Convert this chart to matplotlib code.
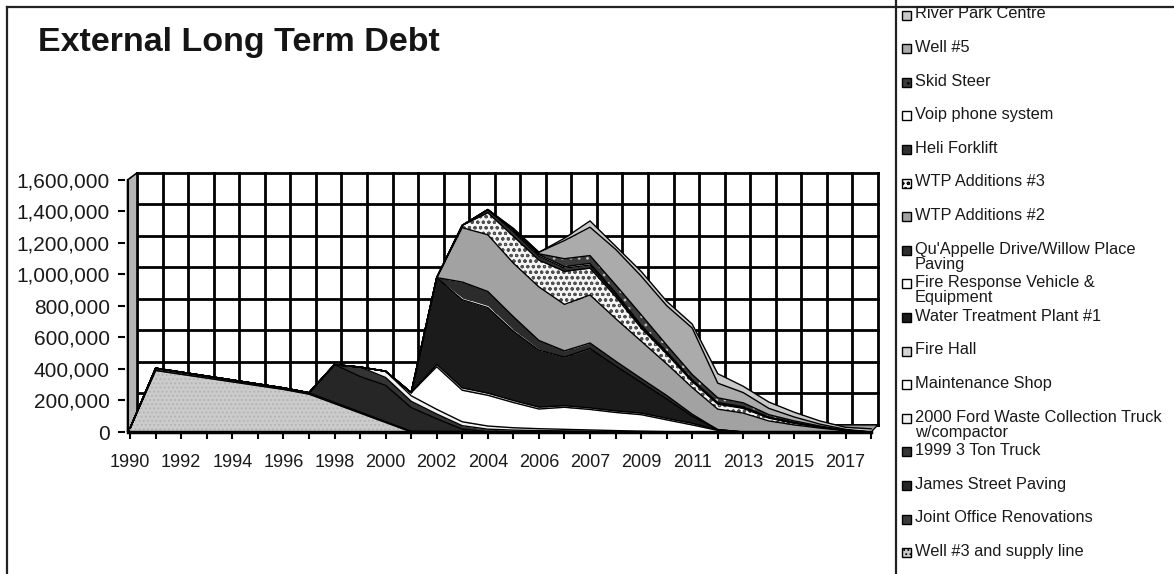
import matplotlib
matplotlib.use("Agg")
import matplotlib.pyplot as plt
import numpy as np
from matplotlib.patches import Polygon, Rectangle
from matplotlib.lines import Line2D

plt.rcParams['font.family'] = ['Liberation Sans', 'DejaVu Sans']
plt.rcParams['hatch.linewidth'] = 0.8

years = [str(y) for y in range(1990, 2007)] + ["2007", "2007"] + [str(y) for y in range(2008, 2019)]

# outstanding balance in $000, bottom of the stack first
well3 = [25, 390, 366, 342, 318, 294, 270, 240, 180, 120, 60] + [0] * 19
joint_office = [0, 15, 14, 13, 12, 11, 10, 9, 8, 7, 6, 5, 4, 3, 2] + [0] * 15
james_st = [0] * 8 + [240, 225, 230, 150, 80, 15] + [0] * 16
ton_truck = [0] * 9 + [60, 50, 40, 30, 22, 16, 12, 9, 7, 5, 3, 1] + [0] * 9
ford_truck = [0] * 10 + [40, 35, 30, 25, 20, 15, 12, 10, 8, 6, 4, 2] + [0] * 8
maint_shop = [0] * 11 + [20, 270, 200, 195, 160, 125, 140, 130, 115, 105, 75, 45, 10] + [0] * 6
fire_hall = [0] * 12 + [15, 15, 14, 13, 12, 10, 10, 10, 10, 10, 10, 5] + [0] * 6
wtp1 = [0] * 12 + [551, 560, 543, 440, 362, 308, 377, 286, 195, 123, 45] + [0] * 7
fire_resp = [0] * 13 + [12, 12, 10, 6] + [0] * 13
quappelle = [0] * 13 + [100, 90, 82, 55, 40, 35, 30, 25, 22, 13] + [0] * 7
wtp2 = [0] * 13 + [345, 360, 340, 340, 295, 305, 270, 237, 201, 169, 130, 120, 70, 45, 25, 8, 0]
wtp3 = [0] * 13 + [15, 140, 170, 170, 210, 170, 140, 83, 62, 38, 32, 30, 18, 10, 5, 2, 0]
heli = [0] * 14 + [20, 30, 25, 20, 20, 15, 10, 8, 6, 5, 5, 4, 3, 2, 0, 0]
voip = [0] * 15 + [10, 10, 10, 10, 10, 8, 7, 5, 5, 5, 3, 2, 1, 0, 0]
skid_steer = [0] * 16 + [5, 50, 50, 50, 67, 42, 34, 30, 25, 15, 10, 5, 2, 0]
well5 = [0] * 15 + [10, 10, 115, 180, 225, 245, 250, 295, 93, 65, 40, 25, 12, 5, 0]
river_park = [0] * 17 + [15, 40, 20, 30, 28, 25, 60, 40, 40, 30, 20, 13, 20]

series = [well3, joint_office, james_st, ton_truck, ford_truck, maint_shop, fire_hall,
          wtp1, fire_resp, quappelle, wtp2, wtp3, heli, voip, skid_steer, well5, river_park]
names = ["Well #3 and supply line", "Joint Office Renovations", "James Street Paving",
         "1999 3 Ton Truck", "2000 Ford Waste Collection Truck\nw/compactor", "Maintenance Shop",
         "Fire Hall", "Water Treatment Plant #1", "Fire Response Vehicle &\nEquipment",
         "Qu'Appelle Drive/Willow Place\nPaving", "WTP Additions #2", "WTP Additions #3",
         "Heli Forklift", "Voip phone system", "Skid Steer", "Well #5", "River Park Centre"]

face = ['#cbcbcb', '#3a3a3a', '#262626', '#343434', '#f2f2f2', '#ffffff', '#d4d4d4',
        '#1b1b1b', '#ffffff', '#2c2c2c', '#a2a2a2', '#f4f4f4', '#303030', '#ffffff',
        '#3a3a3a', '#ababab', '#c9c9c9']
hatches = ['....', None, None, None, None, None, None,
           None, None, None, None, 'ooo', None, None, '..', None, None]
hatch_col = ['#b2b2b2', 'k', 'k', 'k', 'k', 'k', 'k', 'k', 'k', 'k', 'k',
             '#505050', 'k', 'k', '#bdbdbd', 'k', 'k']
edge = ['k'] * 17
edge[8] = 'none'

W, H = 1174, 574
fig = plt.figure(figsize=(W / 100, H / 100), dpi=100)


def fx(px):
    return px / W


def fy(py):
    return 1 - py / H


ax = fig.add_axes([fx(125), fy(432), fx(880) - fx(125), fy(170.5) - fy(432)])
ax.set_xlim(-0.2, 29.35)
ax.set_ylim(0, 1660000)
for s in ax.spines.values():
    s.set_visible(False)

x = np.arange(len(years))
dx, dy = 0.27, 45000  # depth offset of the back wall

# back wall grid
for v in range(0, 1600001, 200000):
    ax.plot([dx, x[-1] + dx], [v + dy, v + dy], color='k', lw=2, zorder=1)
for i in x:
    ax.plot([i + dx, i + dx], [dy, 1600000 + dy], color='k', lw=2, zorder=1)
# side wall and floor
ax.add_patch(Polygon([[-0.1, 0], [dx, dy], [dx, 1600000 + dy], [-0.1, 1600000]],
                     closed=True, facecolor='#b5b5b5', edgecolor='k', lw=1.2, zorder=2))
ax.add_patch(Polygon([[-0.1, 0], [x[-1], 0], [x[-1] + dx, dy], [dx, dy]],
                     closed=True, facecolor='#9a9a9a', edgecolor='k', lw=1.0, zorder=2))

stack = np.array(series, dtype=float) * 1000
tops = np.cumsum(stack, axis=0)
bottoms = tops - stack
for i in range(len(series)):
    ax.fill_between(x, bottoms[i], tops[i], facecolor=face[i], hatch=hatches[i],
                    edgecolor=hatch_col[i], linewidth=0, zorder=3)
for i in range(len(series)):
    if edge[i] != 'none':
        ax.plot(x, tops[i], color=edge[i], lw=1.0, zorder=4)

# front axes
ax.plot([-0.1, x[-1]], [0, 0], color='k', lw=2.5, zorder=5, clip_on=False)
ax.plot([-0.1, -0.1], [0, 1600000], color='k', lw=1.5, zorder=5, clip_on=False)

ax.set_xticks(x)
ax.set_xticklabels([y if i % 2 == 0 else '' for i, y in enumerate(years)])
yt = list(range(0, 1600001, 200000))
ax.set_yticks(yt)
ax.set_yticklabels([f"{v:,}" for v in yt])
ax.tick_params(axis='x', length=5, width=1.5, pad=11, labelsize=13, colors='#1a1a1a')
ax.tick_params(axis='y', length=5, width=1.5, pad=6, labelsize=15, colors='#1a1a1a')
ax.tick_params(axis='both', color='k')

fig.text(fx(38), fy(42), "External Long Term Debt", fontsize=24.5, fontweight='bold',
         ha='left', va='center', color='#151515')

# page frame
for xs, ys in [([7, 7], [7, 574]), ([7, 1174], [7, 7]), ([896, 896], [0, 574])]:
    fig.add_artist(Line2D([fx(v) for v in xs], [fy(v) for v in ys], color='#222222',
                          lw=1.6, transform=fig.transFigure))

# legend, top entry is the top of the stack
for j, i in enumerate(range(len(series) - 1, -1, -1)):
    yc = 15 + 33.6 * j
    fig.add_artist(Rectangle((fx(902), fy(yc + 4.5)), fx(9), fy(0) - fy(9),
                             facecolor=face[i], hatch=hatches[i], edgecolor='k', lw=1,
                             transform=fig.transFigure))
    fig.text(fx(915), fy(yc - 8.5), names[i], fontsize=11.8, ha='left', va='top',
             color='#1a1a1a', linespacing=1.0)

fig.savefig("out.png", dpi=100)
